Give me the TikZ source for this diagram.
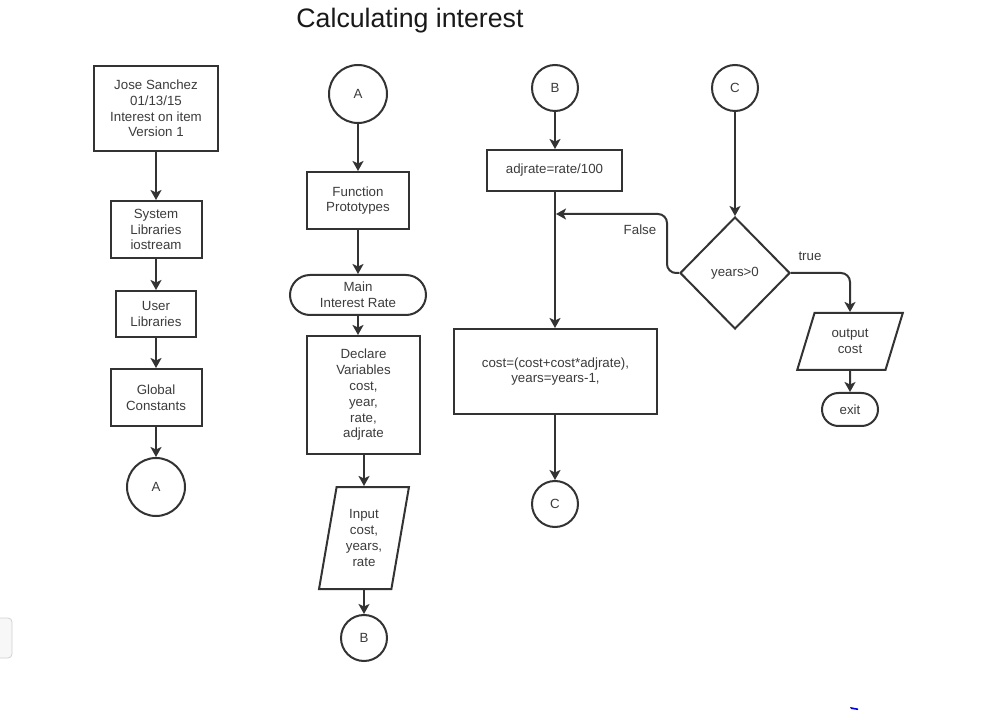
\documentclass[tikz,border=0pt]{standalone}
\usepackage{fontspec}
\setmainfont{Liberation Sans}
\usetikzlibrary{shapes.geometric,arrows.meta}
\definecolor{ln}{HTML}{333333}
\definecolor{tx}{HTML}{3C3C3C}
\begin{document}
\begin{tikzpicture}[x=1pt,y=-1pt,
  every node/.style={font=\fontsize{13.3}{15.8}\selectfont, text=tx},
  box/.style={draw=ln, line width=2pt, rectangle, inner sep=0pt, align=center},
  conn/.style={draw=ln, line width=2pt, circle, inner sep=0pt},
  term/.style={draw=ln, line width=2pt, rectangle, inner sep=0pt, align=center},
  io/.style={draw=ln, line width=2pt, trapezium, trapezium stretches=true, inner sep=0pt, align=center},
  dec/.style={draw=ln, line width=2pt, diamond, inner sep=0pt, aspect=1},
  arr/.style={draw=ln, line width=2pt, -{Stealth[length=10pt,width=11pt,inset=2.5pt]}},
  lbl/.style={font=\fontsize{13.3}{15.8}\selectfont, text=tx}
]
\useasboundingbox (0,0) rectangle (986,711);
\fill[white] (0,0) rectangle (986,711);

% title
\node[font=\fontsize{26.7}{30}\selectfont, text=black!90] (title) at (410,21) {Calculating interest};

% left column
\node[box, minimum width=124pt, minimum height=85pt] (b1) at (156,108.5) {Jose Sanchez\\01/13/15\\Interest on item\\Version 1};
\node[box, minimum width=91pt, minimum height=57pt] (b2) at (156,229.5) {System\\Libraries\\iostream};
\node[box, minimum width=80pt, minimum height=46pt] (b3) at (156,314) {User\\Libraries};
\node[box, minimum width=91pt, minimum height=57pt] (b4) at (156,397.5) {Global\\Constants};
\node[conn, minimum size=58pt] (a1) at (156,487) {A};
\draw[arr] (b1) -- (b2);
\draw[arr] (b2) -- (b3);
\draw[arr] (b3) -- (b4);
\draw[arr] (b4) -- (a1);

% middle column
\node[conn, minimum size=58pt] (a2) at (358,94) {A};
\node[box, minimum width=102pt, minimum height=57pt] (fp) at (358,200.5) {Function\\Prototypes};
\node[term, rounded corners=20pt, minimum width=136pt, minimum height=40pt] (main) at (358,295) {Main\\Interest Rate};
\node[box, minimum width=113pt, minimum height=118pt] (decl) at (363.5,395) {Declare\\Variables\\cost,\\year,\\rate,\\adjrate};
\node[io, trapezium left angle=78.4, trapezium right angle=101.6, minimum width=90pt, minimum height=102pt] (inp) at (364,538) {Input\\cost,\\years,\\rate};
\node[conn, minimum size=46pt] (b5) at (364,638) {B};
\draw[arr] (a2) -- (fp);
\draw[arr] (fp) -- (main);
\draw[arr] (main) -- (decl.north -| main);
\draw[arr] (decl.south -| inp) -- (inp);
\draw[arr] (inp) -- (b5);

% third column
\node[conn, minimum size=46pt] (b6) at (555,88) {B};
\node[box, minimum width=135pt, minimum height=41pt] (adj) at (554.5,170.5) {adjrate=rate/100};
\node[box, minimum width=203pt, minimum height=85pt] (cost) at (555.5,371.5) {cost=(cost+cost*adjrate),\\years=years-1,};
\node[conn, minimum size=46pt] (c1) at (555,504) {C};
\coordinate (fj) at (556,214);
\draw[arr] (b6) -- (adj.north -| b6);
\draw[arr] (adj.south -| b6) -- (cost.north -| b6);
\draw[arr] (cost.south -| c1) -- (c1);

% fourth column
\node[conn, minimum size=46pt] (c2) at (735,88) {C};
\node[dec, minimum width=110pt, minimum height=112pt] (dia) at (735,273) {years>0};
\node[io, trapezium left angle=69.8, trapezium right angle=110.2, minimum width=106pt, minimum height=57pt] (out) at (850,341.5) {output\\cost};
\node[term, rounded corners=16.5pt, minimum width=56pt, minimum height=33pt] (exit) at (850,409.5) {exit};
\draw[arr] (c2) -- (dia);
\draw[arr, rounded corners=9pt] (dia.west) -- ++(-12,0) |- (fj);
\draw[arr, rounded corners=9pt] (dia.east) -| (out.north);
\draw[arr] (out) -- (exit);
\node[lbl] (lfalse) at (640,230) {False};
\node[lbl] (ltrue) at (810,256) {true};

% screen artefacts
\draw[draw=gray!35, fill=gray!6, line width=0.8pt, rounded corners=4pt] (-10,618) rectangle (12,658);
\fill[blue!85!black] (850,707) -- (858,708.5) -- (858,710) -- (851,709) -- cycle;
\end{tikzpicture}
\end{document}
